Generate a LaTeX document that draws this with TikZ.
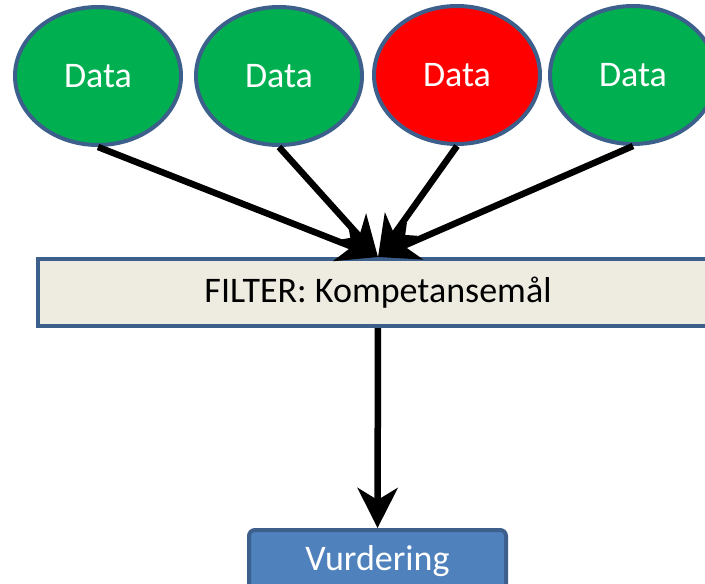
\documentclass[tikz,border=0pt]{standalone}
\usepackage{fontspec}
\setmainfont{Carlito}
\usepackage{xcolor}
\usetikzlibrary{positioning,shapes.geometric,arrows.meta}
\definecolor{okgreen}{HTML}{00B050}
\definecolor{edgeblue}{HTML}{3D5F8C}
\definecolor{filterfill}{HTML}{EEECE1}
\definecolor{vurdfill}{HTML}{4F81BD}

\begin{document}
\begin{tikzpicture}[x=1pt, y=-1pt,
    datanode/.style = {ellipse, draw=edgeblue, line width=4pt, fill=okgreen, minimum width=166pt, minimum height=138pt, inner sep=0pt, text=white, font=\fontsize{36}{43}\selectfont},
    filterbox/.style = {rectangle, draw=edgeblue, line width=4pt, fill=filterfill, minimum width=680pt, minimum height=67pt, inner sep=0pt, font=\fontsize{36}{43}\selectfont},
    vurdbox/.style = {rectangle, rounded corners=6pt, draw=edgeblue, line width=4pt, fill=vurdfill, minimum width=257pt, minimum height=62pt, inner sep=0pt, text=white, font=\fontsize{36}{43}\selectfont},
    flow/.style = {line width=6.5pt, -{Stealth[length=40pt, width=40pt, inset=12pt]}}]
    \useasboundingbox (0,0) rectangle (705,584);
    \node[datanode] (1) at (98,76) {Data};
    \node[datanode] (2) at (279,76) {Data};
    \node[datanode, fill=red] (3) at (457,75) {Data};
    \node[datanode] (4) at (633,75) {Data};
    \node[filterbox] (f) at (378,292.5) {FILTER: Kompetansemål};
    \node[vurdbox] (v) at (377.5,561) {Vurdering};
    \path[flow] (1.south) edge (f.north);
    \path[flow] (2.south) edge (f.north);
    \path[flow] (3.south) edge (f.north);
    \path[flow] (4.south) edge (f.north);
    \path[flow] (f) edge (v);
\end{tikzpicture}
\end{document}
